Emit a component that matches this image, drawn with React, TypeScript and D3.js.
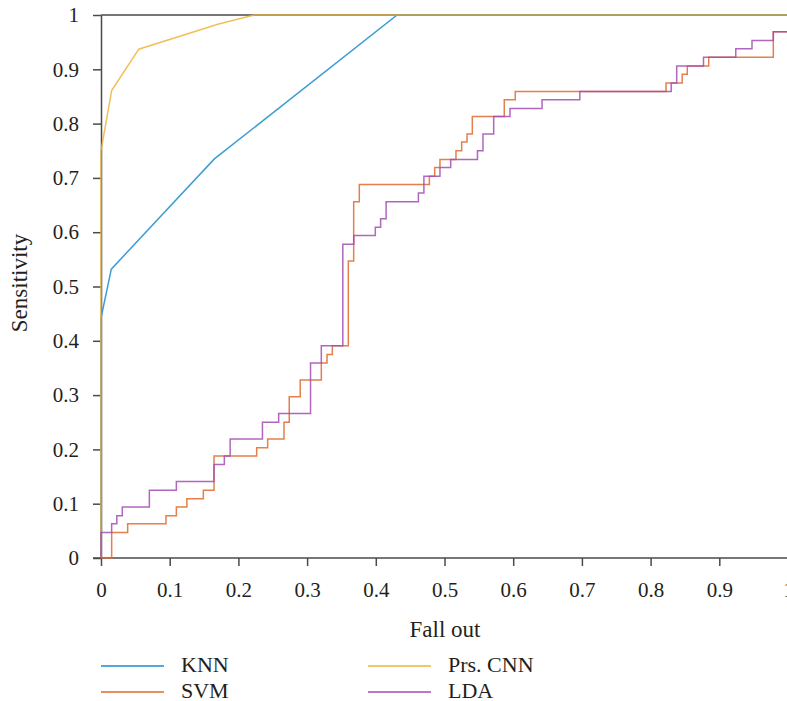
import React, { useEffect, useRef } from "react";
import * as d3 from "d3";

// ROC curves: fall out (x) vs sensitivity (y)
const knnFallOut = [0, 0, 0.015, 0.165, 0.431, 1];
const knnSens = [0, 0.442, 0.532, 0.735, 1, 1];

const cnnFallOut = [0, 0, 0.0155, 0.055, 0.17, 0.223, 1];
const cnnSens = [0, 0.75, 0.861, 0.937, 0.983, 1, 1];

// step curves (value holds until next fall-out point)
const svmFallOut = [
  0, 0.0155, 0.0388, 0.0946, 0.1097, 0.125, 0.149, 0.1645, 0.2266, 0.2426,
  0.2664, 0.274, 0.29, 0.3207, 0.329, 0.3367, 0.36, 0.3678, 0.376, 0.478,
  0.4857, 0.4934, 0.5167, 0.525, 0.5328, 0.5405, 0.587, 0.603, 0.8224, 0.846,
  0.8534, 0.8846, 0.9786, 1,
];
const svmSens = [
  0, 0.047, 0.063, 0.078, 0.094, 0.109, 0.125, 0.188, 0.203, 0.219, 0.25,
  0.297, 0.328, 0.359, 0.375, 0.391, 0.547, 0.656, 0.688, 0.703, 0.719, 0.734,
  0.75, 0.766, 0.781, 0.813, 0.844, 0.859, 0.875, 0.891, 0.906, 0.922, 0.969,
  1,
];

const ldaFallOut = [
  0, 0, 0.0155, 0.023, 0.031, 0.0704, 0.1097, 0.1645, 0.1795, 0.188, 0.235,
  0.2586, 0.305, 0.3207, 0.352, 0.368, 0.3993, 0.407, 0.415, 0.462, 0.47,
  0.4934, 0.509, 0.548, 0.556, 0.5716, 0.5953, 0.642, 0.697, 0.83, 0.838,
  0.877, 0.924, 0.9476, 0.9786, 1,
];
const ldaSens = [
  0, 0.047, 0.063, 0.078, 0.094, 0.125, 0.141, 0.172, 0.188, 0.219, 0.25,
  0.266, 0.359, 0.391, 0.578, 0.594, 0.609, 0.625, 0.656, 0.672, 0.703, 0.719,
  0.734, 0.75, 0.781, 0.813, 0.828, 0.844, 0.859, 0.875, 0.906, 0.922, 0.938,
  0.953, 0.969, 1,
];

const ticks = [0, 0.1, 0.2, 0.3, 0.4, 0.5, 0.6, 0.7, 0.8, 0.9, 1];

const series = [
  { name: "KNN", x: knnFallOut, y: knnSens, color: "#1A8CCB", step: false },
  { name: "SVM", x: svmFallOut, y: svmSens, color: "#E0682C", step: true },
  { name: "Prs. CNN", x: cnnFallOut, y: cnnSens, color: "#EEB43A", step: false },
  { name: "LDA", x: ldaFallOut, y: ldaSens, color: "#A24CB3", step: true },
];

const FONT = "'Liberation Serif', 'Times New Roman', serif";
const AXIS = "#4a4a4a";
const TEXT = "#231f20";

const App: React.FC = () => {
  const svgRef = useRef<SVGSVGElement | null>(null);

  useEffect(() => {
    const svg = d3.select(svgRef.current);
    svg.selectAll("*").remove();

    const x = d3.scaleLinear().domain([0, 1]).range([101, 788]);
    const y = d3.scaleLinear().domain([0, 1]).range([558, 15]);

    const fmt = (d: d3.NumberValue) => String(+(+d).toFixed(1));

    // top frame
    svg
      .append("line")
      .attr("x1", x(0))
      .attr("x2", x(1))
      .attr("y1", y(1))
      .attr("y2", y(1))
      .attr("stroke", AXIS)
      .attr("stroke-width", 1.5);

    const xAxis = svg
      .append("g")
      .attr("transform", `translate(0,${y(0)})`)
      .call(
        d3
          .axisBottom(x)
          .tickValues(ticks)
          .tickFormat(fmt)
          .tickSizeInner(8)
          .tickSizeOuter(0)
          .tickPadding(16)
      );
    xAxis.select(".domain").attr("d", `M93,0H${x(1)}`);

    const yAxis = svg
      .append("g")
      .attr("transform", `translate(${x(0)},0)`)
      .call(
        d3
          .axisLeft(y)
          .tickValues(ticks)
          .tickFormat(fmt)
          .tickSizeInner(8)
          .tickSizeOuter(0)
          .tickPadding(14)
      );

    [xAxis, yAxis].forEach((g) => {
      g.select(".domain").attr("stroke", AXIS).attr("stroke-width", 1.5);
      g.selectAll(".tick line").attr("stroke", AXIS).attr("stroke-width", 1.5);
      g.selectAll(".tick text")
        .attr("fill", TEXT)
        .style("font-family", FONT)
        .style("font-size", "21px");
    });

    const plot = svg.append("g");
    series.forEach((s) => {
      const pts = s.x.map((v, i) => [v, s.y[i]] as [number, number]);
      const line = d3
        .line<[number, number]>()
        .x((d) => x(d[0]))
        .y((d) => y(d[1]))
        .curve(s.step ? d3.curveStepAfter : d3.curveLinear);
      plot
        .append("path")
        .attr("d", line(pts))
        .attr("fill", "none")
        .attr("stroke", s.color)
        .attr("stroke-width", 1.5)
        .attr("stroke-opacity", 0.85);
    });

    // axis titles
    svg
      .append("text")
      .attr("x", 445)
      .attr("y", 637)
      .attr("text-anchor", "middle")
      .attr("fill", TEXT)
      .style("font-family", FONT)
      .style("font-size", "23px")
      .text("Fall out");

    svg
      .append("text")
      .attr("transform", "translate(27,283) rotate(-90)")
      .attr("text-anchor", "middle")
      .attr("fill", TEXT)
      .style("font-family", FONT)
      .style("font-size", "23px")
      .text("Sensitivity");

    // legend (column-wise)
    const legend = svg.append("g");
    series.forEach((s, i) => {
      const col = Math.floor(i / 2);
      const row = i % 2;
      const lx = col === 0 ? 101 : 368;
      const ly = 666 + row * 26;
      legend
        .append("line")
        .attr("x1", lx)
        .attr("x2", lx + 63)
        .attr("y1", ly)
        .attr("y2", ly)
        .attr("stroke", s.color)
        .attr("stroke-width", 1.5);
      legend
        .append("text")
        .attr("x", lx + 80)
        .attr("y", ly + 6)
        .attr("fill", TEXT)
        .style("font-family", FONT)
        .style("font-size", "22px")
        .text(s.name);
    });
  }, []);

  return (
    <svg
      ref={svgRef}
      width={787}
      height={701}
      style={{ position: "absolute", left: 0, top: 0, background: "#fff" }}
    ></svg>
  );
};

export default App;
